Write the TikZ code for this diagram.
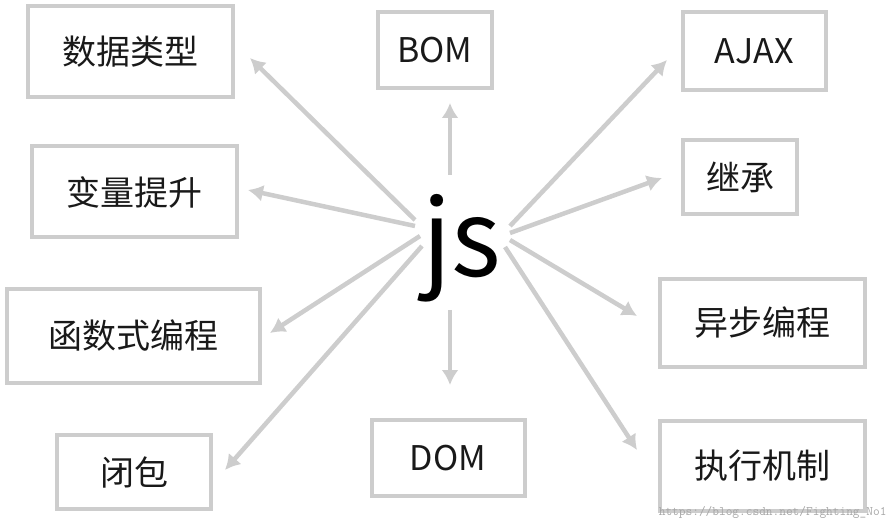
\documentclass[tikz,border=0pt]{standalone}
\usepackage{fontspec}
\setmainfont{Noto Sans CJK SC}
\usetikzlibrary{positioning,arrows.meta}
\definecolor{boxgray}{RGB}{205,205,205}
\begin{document}
\begin{tikzpicture}[x=1pt,y=-1pt,
    topic/.style={draw=boxgray,line width=4pt,inner sep=0pt,font=\fontsize{34}{40}\selectfont,text=black!90},
    arr/.style={draw=boxgray,line width=4.5pt,-{Latex[length=15pt,width=17pt]}}]
  \useasboundingbox (0,0) rectangle (894,529);
  \node (center) at (462,248) {\fontsize{106}{116}\selectfont js};
  \node[topic,minimum width=205,minimum height=91] (types)  at (130,52)  {数据类型};
  \node[topic,minimum width=114,minimum height=76] (bom)    at (435,50)  {BOM};
  \node[topic,minimum width=143,minimum height=78] (ajax)   at (754,51)  {AJAX};
  \node[topic,minimum width=205,minimum height=91] (hoist)  at (134,192) {变量提升};
  \node[topic,minimum width=114,minimum height=74] (inherit) at (740,177) {继承};
  \node[topic,minimum width=253,minimum height=93] (func)   at (133,336) {函数式编程};
  \node[topic,minimum width=205,minimum height=88] (async)  at (762,323) {异步编程};
  \node[topic,minimum width=154,minimum height=74] (closure) at (134,472) {闭包};
  \node[topic,minimum width=153,minimum height=76] (dom)    at (448,458) {DOM};
  \node[topic,minimum width=205,minimum height=90] (exec)   at (762,466) {执行机制};
  \node[text=black!35,font=\ttfamily\fontsize{13}{15}\selectfont,anchor=south east] (mark) at (890,522) {https://blog.csdn.net/Fighting\_No1};
  % arrow ends
  \coordinate (s1) at (415,220); \coordinate (t1) at (250,58);
  \coordinate (s2) at (415,226); \coordinate (t2) at (248,190);
  \coordinate (s3) at (420,236); \coordinate (t3) at (270,333);
  \coordinate (s4) at (422,246); \coordinate (t4) at (225,470);
  \coordinate (s5) at (450,175); \coordinate (t5) at (450,103);
  \coordinate (s6) at (450,310); \coordinate (t6) at (450,385);
  \coordinate (s7) at (510,226); \coordinate (t7) at (667,60);
  \coordinate (s8) at (510,233); \coordinate (t8) at (662,178);
  \coordinate (s9) at (510,240); \coordinate (t9) at (637,316);
  \coordinate (s10) at (505,247); \coordinate (t10) at (637,450);
  \foreach \i in {1,...,10}
    \draw[arr] (s\i) -- (t\i);
\end{tikzpicture}
\end{document}
